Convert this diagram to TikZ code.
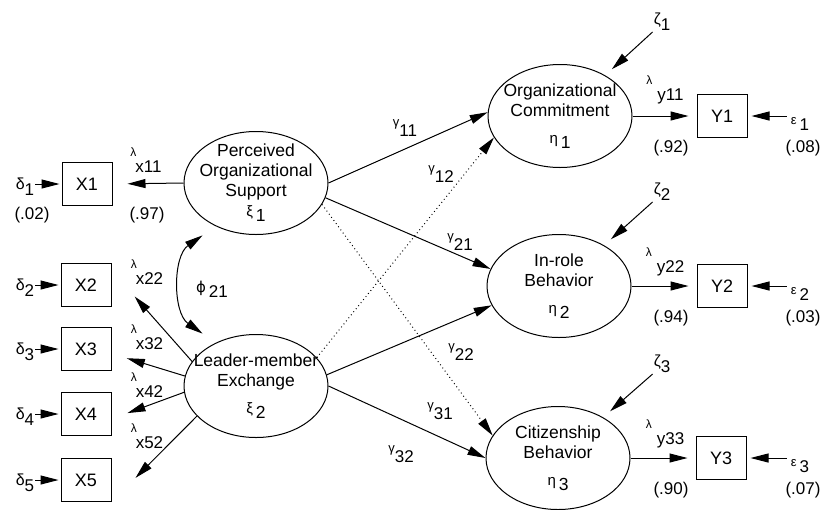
\documentclass[tikz,border=0pt]{standalone}
\usepackage{fontspec}
\setmainfont{Liberation Sans}
\newfontfamily\symfont{DejaVu Sans}
\usetikzlibrary{positioning}
\usetikzlibrary{shapes.geometric, arrows.meta}

\newcommand{\gsub}[2]{{\fontsize{13}{13}\selectfont #1}\raisebox{-10pt}{#2}}
\newcommand{\lsub}[2]{{\fontsize{15}{15}\selectfont #1}\,\raisebox{-5pt}{#2}}
\newcommand{\dsub}[2]{{\fontsize{16}{16}\selectfont #1}\raisebox{-6pt}{#2}}
\newcommand{\esub}[2]{{\fontsize{13}{13}\selectfont #1}\,\raisebox{-6pt}{#2}}
\newcommand{\lamlab}[2][5pt]{\begin{tabular}{@{}l@{}}{\fontsize{12}{12}\selectfont λ}\\[-4pt]\hspace{#1}#2\end{tabular}}

\begin{document}
\begin{tikzpicture}[x=1pt,y=-1pt]
    \tikzset{latent/.style = {ellipse, draw=black, line width=1pt,
                             minimum width=144pt, minimum height=103pt,
                             inner xsep=-24pt, inner ysep=-12pt,
                             align=center, font=\fontsize{17.5}{20}\selectfont}}
    \tikzset{obs/.style = {rectangle, draw=black, line width=1pt,
                          minimum width=50pt, minimum height=43pt,
                          font=\fontsize{18}{20}\selectfont}}
    \tikzset{lab/.style = {inner sep=1pt, font=\fontsize{17}{20}\selectfont}}
    \tikzset{effect/.style = {-{Triangle[length=18pt,width=9pt]}, line width=1pt}}
    \tikzset{weakeffect/.style = {effect, dash pattern=on 0.9pt off 3pt}}
    \tikzset{corr/.style = {{Triangle[length=18pt,width=9pt]}-{Triangle[length=18pt,width=9pt]}, line width=1pt}}

    \useasboundingbox (0,0) rectangle (821,509);

    % latent variables
    \node (POS) [latent] at (256,183) {Perceived\\Organizational\\Support\\\lsub{ξ}{1}};
    \node (LMX) [latent] at (256,386) {Leader-member\\Exchange\\[7pt]\lsub{ξ}{2}};
    \node (OC) [latent] at (560,116) {Organizational\\Commitment\\[7pt]\lsub{η}{1}};
    \node (IRB) [latent] at (559,286) {In-role\\Behavior\\[7pt]\lsub{η}{2}};
    \node (CB) [latent] at (558,458) {Citizenship\\Behavior\\[7pt]\lsub{η}{3}};

    % indicators
    \node (X1) [obs] at (87,184) {X1};
    \node (X2) [obs] at (86,285) {X2};
    \node (X3) [obs] at (86,349) {X3};
    \node (X4) [obs] at (86,414) {X4};
    \node (X5) [obs] at (86,480) {X5};
    \node (Y1) [obs] at (722,116) {Y1};
    \node (Y2) [obs] at (722,286) {Y2};
    \node (Y3) [obs] at (721,458) {Y3};

    % error terms
    \node (d1) [lab] at (25,187) {\dsub{δ}{1}};
    \node (d2) [lab] at (25,288) {\dsub{δ}{2}};
    \node (d3) [lab] at (25,352) {\dsub{δ}{3}};
    \node (d4) [lab] at (25,417) {\dsub{δ}{4}};
    \node (d5) [lab] at (25,483) {\dsub{δ}{5}};
    \node (e1) [lab] at (800,124) {\esub{ε}{1}};
    \node (e2) [lab] at (800,294) {\esub{ε}{2}};
    \node (e3) [lab] at (800,466) {\esub{ε}{3}};
    \node (z1) [lab] at (662,22) {\dsub{ζ}{1}};
    \node (z2) [lab] at (662,192) {\dsub{ζ}{2}};
    \node (z3) [lab] at (662,364) {\dsub{ζ}{3}};

    % loadings and fit values
    \node (lx11) [lab] at (146,160) {\lamlab{x11}};
    \node (lx22) [lab] at (147,272) {\lamlab{x22}};
    \node (lx32) [lab] at (147,337) {\lamlab{x32}};
    \node (lx42) [lab] at (147,385) {\lamlab{x42}};
    \node (lx52) [lab] at (147,436) {\lamlab{x52}};
    \node (ly11) [lab] at (665,88) {\lamlab[11pt]{y11}};
    \node (ly22) [lab] at (665,260) {\lamlab[11pt]{y22}};
    \node (ly33) [lab] at (665,432) {\lamlab[11pt]{y33}};
    \node (r02) [lab] at (32,215) {(.02)};
    \node (r97) [lab] at (147,215) {(.97)};
    \node (r92) [lab] at (671,148) {(.92)};
    \node (r94) [lab] at (671,318) {(.94)};
    \node (r90) [lab] at (671,490) {(.90)};
    \node (r08) [lab] at (803,148) {(.08)};
    \node (r03) [lab] at (803,318) {(.03)};
    \node (r07) [lab] at (803,490) {(.07)};

    % structural paths
    \node (g11) [lab] at (405,128) {\gsub{γ}{11}};
    \node (g12) [lab] at (441,174) {\gsub{γ}{12}};
    \node (g21) [lab] at (460,242) {\gsub{γ}{21}};
    \node (g22) [lab] at (461,352) {\gsub{γ}{22}};
    \node (g31) [lab] at (440,411) {\gsub{γ}{31}};
    \node (g32) [lab] at (401,454) {\gsub{γ}{32}};
    \node (phi) [lab] at (212,289) {\lsub{\symfont ϕ}{21}};

    \draw[effect] (POS.east) -- (OC.177);
    \draw[effect] (POS.348) -- (IRB.166);
    \draw[weakeffect] (POS.342) -- (CB.161);
    \draw[weakeffect] (LMX.25) -- (OC.198);
    \draw[effect] (LMX.9) -- (IRB.196);
    \draw[effect] (LMX.east) -- (CB.west);
    \draw[corr, shorten <=16pt, shorten >=16pt] (POS.227) .. controls +(-43,30) and +(-43,-30) .. (LMX.133);

    \draw[effect, shorten >=15pt] (POS.west) -- (X1.east);
    \draw[effect, shorten >=35pt] (LMX.159) -- (X2.30);
    \draw[effect, shorten >=16pt] (LMX.172) -- (X3.-10);
    \draw[effect, shorten >=17pt] (LMX.185) -- (X4.-11);
    \draw[effect, shorten >=34pt] (LMX.207) -- (X5.south east);

    \draw[effect, shorten >=8pt] (OC.east) -- (Y1.west);
    \draw[effect, shorten >=8pt] (IRB.east) -- (Y2.west);
    \draw[effect, shorten >=8pt] (CB.east) -- (Y3.west);

    \draw[effect, shorten >=2pt] (d1.east |- X1.west) -- (X1.west);
    \draw[effect, shorten >=2pt] (d2.east |- X2.west) -- (X2.west);
    \draw[effect, shorten >=2pt] (d3.east |- X3.west) -- (X3.west);
    \draw[effect, shorten >=2pt] (d4.east |- X4.west) -- (X4.west);
    \draw[effect, shorten >=2pt] (d5.east |- X5.west) -- (X5.west);
    \draw[effect, shorten >=4pt, shorten <=3pt] (e1.west |- Y1.east) -- (Y1.east);
    \draw[effect, shorten >=4pt, shorten <=3pt] (e2.west |- Y2.east) -- (Y2.east);
    \draw[effect, shorten >=4pt, shorten <=3pt] (e3.west |- Y3.east) -- (Y3.east);
    \draw[effect, shorten >=9pt] (z1.south west) -- (OC.42);
    \draw[effect, shorten >=9pt] (z2.south west) -- (IRB.42);
    \draw[effect, shorten >=9pt] (z3.south west) -- (CB.42);

\end{tikzpicture}
\end{document}
